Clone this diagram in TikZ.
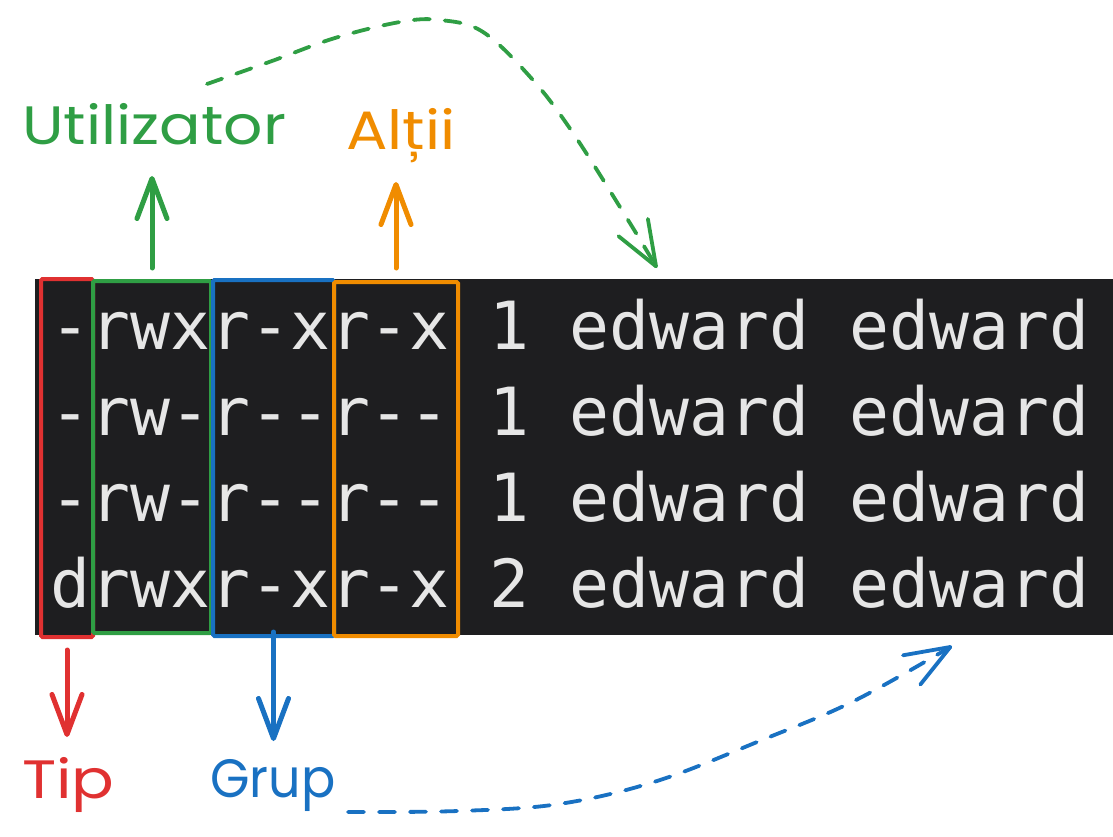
\documentclass[tikz,border=0pt]{standalone}
\usepackage{fontspec}
\setmonofont{DejaVu Sans Mono}
\newfontfamily\handfont{Poppins}
\usetikzlibrary{arrows.meta}
\definecolor{cred}{HTML}{E03131}
\definecolor{cgreen}{HTML}{2F9E44}
\definecolor{cblue}{HTML}{1971C2}
\definecolor{corange}{HTML}{F08C00}
\definecolor{termbg}{HTML}{1E1E20}
\definecolor{termfg}{HTML}{E6E6E6}
\begin{document}
\begin{tikzpicture}[x=1pt,y=-1pt,
  termtext/.style={anchor=base west, inner sep=0pt, text=termfg, font=\ttfamily\fontsize{66.4}{70}\selectfont},
  colbox/.style={draw, line width=4pt, rounded corners=1.5pt, inner sep=0pt},
  lbl/.style={anchor=base west, inner sep=0pt, font=\handfont\fontsize{54}{58}\selectfont},
  sk/.style={line width=5pt, line cap=round, line join=round, -{Straight Barb[length=40pt,width=30pt,round]}},
  dsk/.style={line width=3.8pt, line cap=round, dash pattern=on 16pt off 15pt, -{Straight Barb[length=45pt,width=34pt,round]}}]
\useasboundingbox (0,0) rectangle (1113,837);
% terminal
\node[fill=termbg, minimum width=1078pt, minimum height=356pt, inner sep=0pt] (term) at (574,457) {};
\node[termtext] (row1) at (50,349) {-rwxr-xr-x 1 edward edward};
\node[termtext] (row2) at (50,435) {-rw-r--r-- 1 edward edward};
\node[termtext] (row3) at (50,521) {-rw-r--r-- 1 edward edward};
\node[termtext] (row4) at (50,607) {drwxr-xr-x 2 edward edward};
% column boxes
\node[colbox, draw=cred, minimum width=52pt, minimum height=358pt] (tipbox) at (67,458) {};
\node[colbox, draw=cgreen, minimum width=118pt, minimum height=352pt] (userbox) at (152,457) {};
\node[colbox, draw=cblue, minimum width=121pt, minimum height=356pt] (groupbox) at (273.5,458) {};
\node[colbox, draw=corange, minimum width=124pt, minimum height=354pt] (otherbox) at (396,459) {};
% labels
\node[lbl, text=cgreen] (util) at (22,145) {\scalebox{1.14}[1]{Utilizator}};
\node[lbl, text=corange] (altii) at (346,150) {\scalebox{1.14}[1]{Alții}};
\node[lbl, text=cred] (tip) at (22,798) {\scalebox{1.17}[1]{Tip}};
\node[lbl, text=cblue] (grup) at (210,797) {\scalebox{0.94}[1]{Grup}};
% straight arrows
\coordinate (utip) at (152,176);
\coordinate (atip) at (396,182);
\coordinate (ttip) at (67,737);
\coordinate (gtip) at (273.5,741);
\draw[sk, cgreen] ([yshift=11pt]userbox.north) -- (utip);
\draw[sk, corange] ([yshift=12pt]otherbox.north) -- (atip);
\draw[sk, cred] ([yshift=-11pt]tipbox.south) -- (ttip);
\draw[sk, cblue] ([yshift=6pt]groupbox.south) -- (gtip);
% dashed curves
\coordinate (gs) at (207,84);
\coordinate (ge) at (657,268);
\draw[dsk, cgreen] plot[smooth, tension=0.6] coordinates {(gs) (272,61) (335,38) (400,22) (440,20) (483,32) (532,79) (573,133) (628,220) (ge)};
\coordinate (bs) at (348,812);
\coordinate (be) at (952,646);
\draw[dsk, cblue] plot[smooth, tension=0.6] coordinates {(bs) (458,811) (559,804) (657,781) (762,740) (854,701) (be)};
\end{tikzpicture}
\end{document}
